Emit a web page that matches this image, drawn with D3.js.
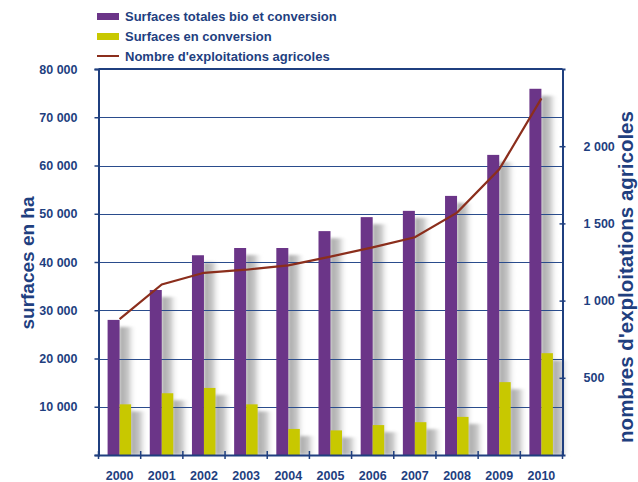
<!DOCTYPE html>
<html>
<head>
<meta charset="utf-8">
<script src="https://cdn.jsdelivr.net/npm/d3@7"></script>
<style>
    body { margin: 0; background: #fff; }
    text { font-family: "Liberation Sans", Arial, sans-serif; font-weight: bold; fill: #1f3f7f; }
</style>
</head>
<body>
<div id="chart"></div>
<script>
const years = ["2000", "2001", "2002", "2003", "2004", "2005", "2006", "2007", "2008", "2009", "2010"];
const surfacesTotales = [28000, 34200, 41400, 42900, 42900, 46400, 49300, 50600, 53700, 62200, 75900];
const surfacesConversion = [10500, 12800, 13900, 10500, 5400, 5100, 6200, 6800, 7900, 15100, 21100];
const exploitations = [880, 1105, 1180, 1200, 1228, 1285, 1345, 1410, 1570, 1850, 2310];
const leftTicks = [10000, 20000, 30000, 40000, 50000, 60000, 70000, 80000];
const rightTicks = [500, 1000, 1500, 2000];
const legendLabels = ["Surfaces totales bio et conversion", "Surfaces en conversion", "Nombre d'exploitations agricoles"];

const W = 638, H = 482;
const plotL = 98.5, plotR = 562.5, plotT = 69, plotB = 455;
const ink = "#1f3f7f";
const colors = ["#6b3588", "#c8c800", "#8b2e1c"];

const fmt = v => d3.format(",")(v).replace(/,/g, " ");

const svg = d3.select("#chart").append("svg").attr("width", W).attr("height", H);

const defs = svg.append("defs");
const grad = defs.append("linearGradient").attr("id", "shadow");
grad.append("stop").attr("offset", "0%").attr("stop-color", "#a6a6a6");
grad.append("stop").attr("offset", "50%").attr("stop-color", "#c8c8c8");
grad.append("stop").attr("offset", "100%").attr("stop-color", "#ffffff").attr("stop-opacity", 0);
const blur = defs.append("filter").attr("id", "blur").attr("x", "-50%").attr("width", "200%");
blur.append("feGaussianBlur").attr("stdDeviation", 1.5);

const x = d3.scaleBand().domain(years).range([plotL, plotR]);
const y = d3.scaleLinear().domain([0, 80000]).range([plotB, plotT]);
const y2 = d3.scaleLinear().domain([0, 2500]).range([plotB, plotT]);
const barW = 12;

// shadows (drawn under the grid, as in the original)
const shadows = svg.append("g").attr("filter", "url(#blur)");
years.forEach((yr, i) => {
    const cx = x(yr) + x.bandwidth() / 2;
    shadows.append("rect")
        .attr("x", cx).attr("y", y(surfacesTotales[i]) + 7)
        .attr("width", 17).attr("height", plotB - y(surfacesTotales[i]) - 7)
        .attr("fill", "url(#shadow)");
    shadows.append("rect")
        .attr("x", cx + barW - 0.5).attr("y", y(surfacesConversion[i]) + 7)
        .attr("width", 17).attr("height", plotB - y(surfacesConversion[i]) - 7)
        .attr("fill", "url(#shadow)");
});

// grid lines
svg.append("g").selectAll("line").data(leftTicks).join("line")
    .attr("x1", plotL).attr("x2", plotR)
    .attr("y1", d => Math.round(y(d)) + 0.5).attr("y2", d => Math.round(y(d)) + 0.5)
    .attr("stroke", "#2a4c8c").attr("stroke-width", 1.2);

// bars
svg.append("g").selectAll("rect").data(surfacesTotales).join("rect")
    .attr("x", (d, i) => x(years[i]) + x.bandwidth() / 2 - barW)
    .attr("y", d => y(d))
    .attr("width", barW).attr("height", d => plotB - y(d))
    .attr("fill", colors[0]);

svg.append("g").selectAll("rect").data(surfacesConversion).join("rect")
    .attr("x", (d, i) => x(years[i]) + x.bandwidth() / 2)
    .attr("y", d => y(d))
    .attr("width", barW - 0.5).attr("height", d => plotB - y(d))
    .attr("fill", colors[1]);

// line
svg.append("path").datum(exploitations)
    .attr("fill", "none").attr("stroke", colors[2]).attr("stroke-width", 2.2)
    .attr("d", d3.line().x((d, i) => x(years[i]) + x.bandwidth() / 2).y(d => y2(d)));

// axes
const axisL = svg.append("g").attr("transform", `translate(${plotL},0)`)
    .call(d3.axisLeft(y).tickValues(d3.range(0, 80001, 10000)).tickSize(4).tickFormat(d => d ? fmt(d) : ""));
axisL.selectAll("text").attr("x", -21).style("font-size", "12.5px");

const axisR = svg.append("g").attr("transform", `translate(${plotR},0)`)
    .call(d3.axisRight(y2).tickValues(rightTicks).tickSize(3).tickFormat(fmt));
axisR.selectAll("line").attr("x1", -3);
axisR.selectAll("text").attr("x", 21).style("font-size", "12.5px");

const axisB = svg.append("g").attr("transform", `translate(0,${plotB})`)
    .call(d3.axisBottom(x).tickSize(0));
axisB.selectAll("text").attr("dy", 0).attr("y", 25).style("font-size", "12.5px");
axisB.selectAll(".tickmark").data(d3.range(years.length + 1)).join("line")
    .attr("class", "tickmark")
    .attr("x1", i => plotL + i * x.bandwidth()).attr("x2", i => plotL + i * x.bandwidth())
    .attr("y1", -4).attr("y2", 4).attr("stroke", ink).attr("stroke-width", 1.5);

svg.selectAll(".domain").attr("stroke", ink).attr("stroke-width", 2);
svg.selectAll(".tick line").attr("stroke", ink).attr("stroke-width", 1.5);
svg.selectAll(".tick text").attr("fill", ink).style("font-family", "Liberation Sans, Arial, sans-serif").style("font-weight", "bold");

// top frame
svg.append("line").attr("x1", plotL).attr("x2", plotR).attr("y1", plotT).attr("y2", plotT)
    .attr("stroke", ink).attr("stroke-width", 2);

// axis titles
svg.append("text").attr("transform", "translate(34,263) rotate(-90)")
    .attr("text-anchor", "middle").style("font-size", "19px").text("surfaces en ha");
svg.append("text").attr("transform", "translate(633,277) rotate(-90)")
    .attr("text-anchor", "middle").style("font-size", "20.5px").text("nombres d'exploitations agricoles");

// legend
const legend = svg.append("g");
legendLabels.forEach((label, i) => {
    const ly = 16 + i * 20;
    if (i < 2)
        legend.append("rect").attr("x", 97).attr("y", ly - 3).attr("width", 22).attr("height", 7).attr("fill", colors[i]);
    else
        legend.append("line").attr("x1", 97).attr("x2", 119).attr("y1", ly).attr("y2", ly)
            .attr("stroke", colors[i]).attr("stroke-width", 2);
    legend.append("text").attr("x", 125).attr("y", ly + 5).style("font-size", "13px").text(label);
});
</script>
</body>
</html>
